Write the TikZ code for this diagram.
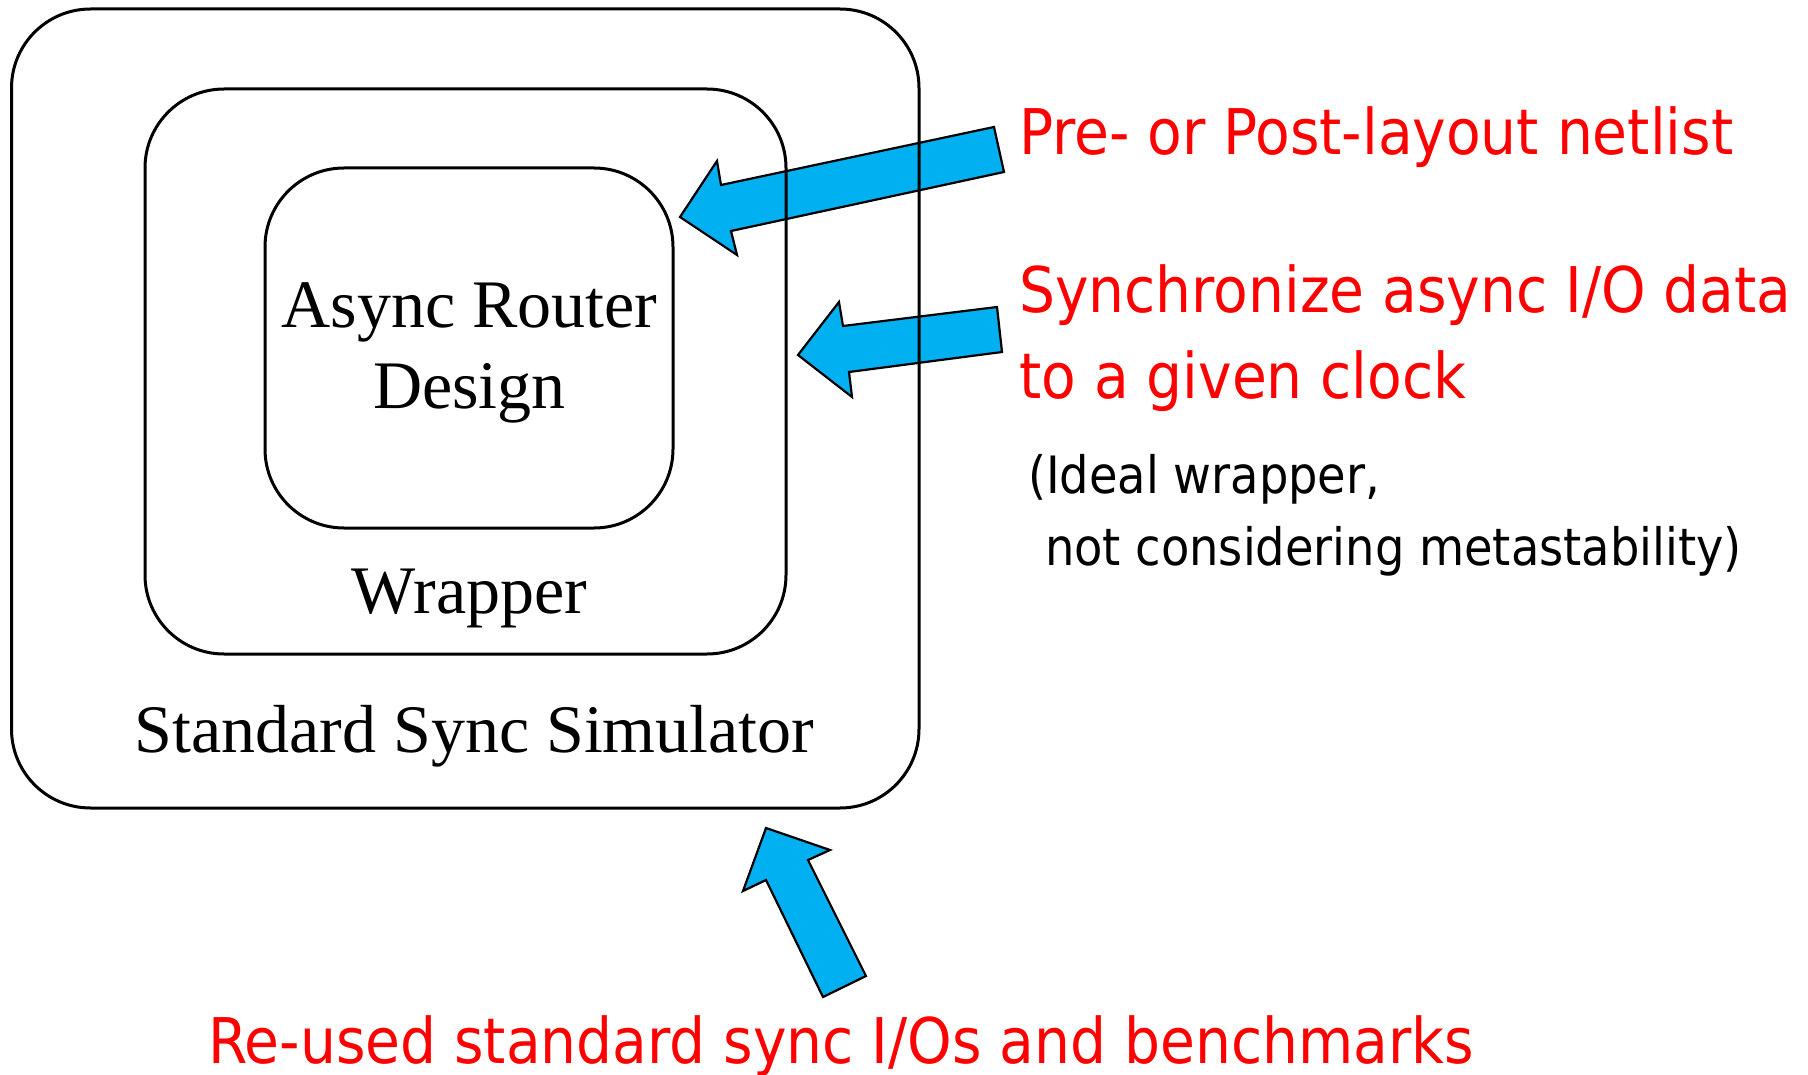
\documentclass[tikz,border=0pt]{standalone}
\usepackage{fontspec}
\setmainfont{Liberation Serif}
\newfontfamily\labelfont{DejaVu Sans Condensed}
\definecolor{arrowblue}{HTML}{00B0F0}
\definecolor{notered}{HTML}{FF0000}
\tikzset{
  layer/.style={draw=black, line width=3pt, rounded corners=79pt, inner sep=0pt},
  boxtext/.style={font=\fontsize{68}{78}\selectfont, anchor=base, inner sep=0pt},
  redtext/.style={font=\labelfont\fontsize{63}{72}\selectfont, text=notered, anchor=base west, inner sep=0pt},
  notetext/.style={font=\labelfont\fontsize{51.5}{60}\selectfont, text=black, anchor=base west, inner sep=0pt},
  blockarrow/.style={fill=arrowblue, draw=black, line width=2.2pt, line join=miter}
}
\begin{document}
\begin{tikzpicture}[x=1pt, y=-1pt]
\useasboundingbox (0,0) rectangle (1808,1075);

% block arrows (drawn first, so the box outlines run over them)
\path[blockarrow] (680,217) -- (717,161) -- (721,185) -- (994,127) -- (1004,172) -- (731,231) -- (737,255) -- cycle;
\path[blockarrow] (798,355) -- (839,302) -- (843,326) -- (997,307) -- (1002,352) -- (849,372) -- (852,397) -- cycle;
\path[blockarrow] (766,828) -- (830,850) -- (808,860) -- (866,976) -- (823,997) -- (766,880) -- (743,891) -- cycle;

% nested layers
\node[layer, minimum width=907.5pt, minimum height=799pt] (sim) at (465.25,408.5) {};
\node[layer, minimum width=641pt, minimum height=565pt] (wrap) at (465.5,371.5) {};
\node[layer, minimum width=408pt, minimum height=360pt] (router) at (469,348) {};

\node[boxtext] (routerA) at (469.5,328) {Async Router};
\node[boxtext] (routerB) at (469.5,408) {Design};
\node[boxtext] (wraplbl) at (469.5,613) {Wrapper};
\node[boxtext] (simlbl) at (474.5,752) {Standard Sync Simulator};

% annotations
\node[redtext] (netlist) at (1019,155) {Pre- or Post-layout netlist};
\node[redtext] (syncA) at (1019,313) {Synchronize async I/O data};
\node[redtext] (syncB) at (1019,399) {to a given clock};
\node[notetext] (noteA) at (1028,493) {(Ideal wrapper,};
\node[notetext] (noteB) at (1045,565) {not considering metastability)};
\node[redtext] (reuse) at (208,1063) {Re-used standard sync I/Os and benchmarks};
\end{tikzpicture}
\end{document}
